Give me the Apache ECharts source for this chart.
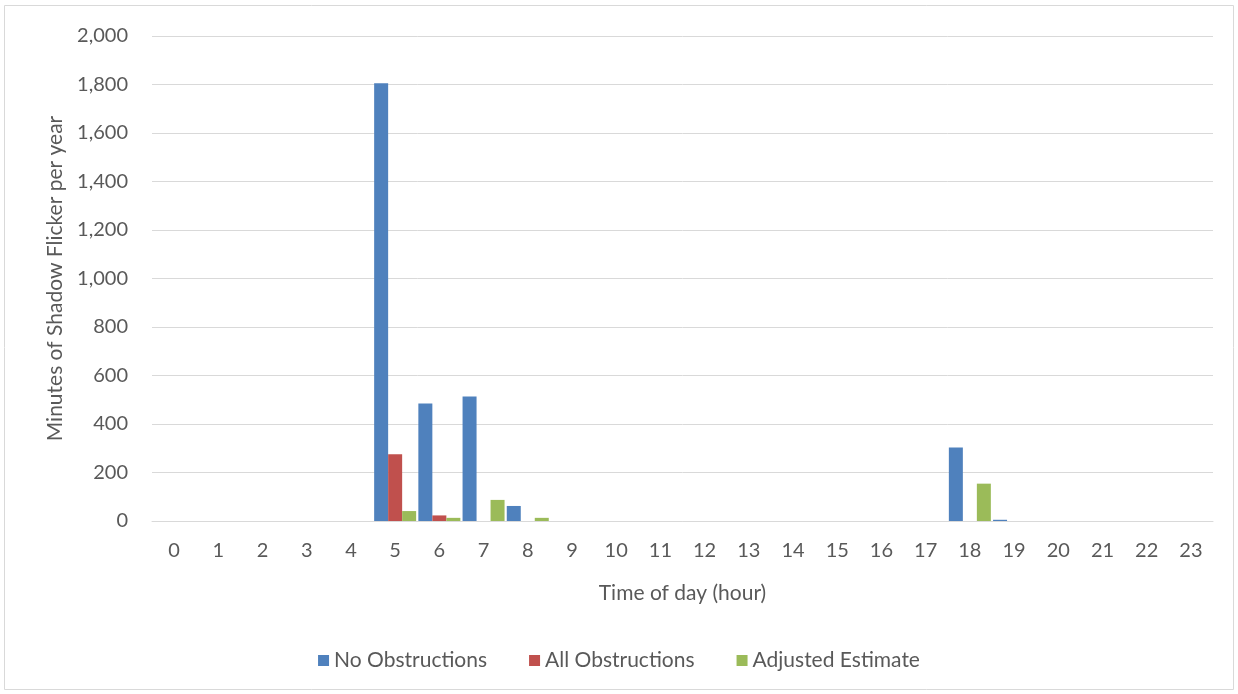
<!DOCTYPE html>
<html><head><meta charset="utf-8">
<script src="https://cdn.jsdelivr.net/npm/echarts@6/dist/echarts.min.js"></script>
<style>html,body{margin:0;padding:0;background:#fff}#c{width:1238px;height:694px}</style>
</head><body><div id="c"></div>
<script>
const hours = ['0','1','2','3','4','5','6','7','8','9','10','11','12','13','14','15','16','17','18','19','20','21','22','23'];
const noObstructions = [0,0,0,0,0,1805,485,513,62,0,0,0,0,0,0,0,0,0,303,5,0,0,0,0];
const allObstructions = [0,0,0,0,0,275,23,0,0,0,0,0,0,0,0,0,0,0,0,0,0,0,0,0];
const adjustedEstimate = [0,0,0,0,0,41,13,87,13,0,0,0,0,0,0,0,0,0,154,0,0,0,0,0];
const yTicks = {min:0, max:2000, interval:200};

const font = 'Lato, "Open Sans", sans-serif';
const chart = echarts.init(document.getElementById('c'));
chart.setOption({
  animation:false,
  textStyle:{fontFamily:font},
  graphic:[{type:'rect',shape:{x:4.5,y:5.5,width:1229,height:684},style:{fill:'none',stroke:'#D9D9D9',lineWidth:1}}],
  grid:{left:152,right:25,top:36,bottom:173},
  legend:{bottom:18,left:'center',itemWidth:11,itemHeight:11,itemGap:42,icon:'rect',
    textStyle:{color:'#595959',fontSize:21,fontFamily:font}},
  xAxis:{type:'category',data:hours,name:'Time of day (hour)',nameLocation:'middle',nameGap:62,
    nameTextStyle:{color:'#595959',fontSize:21,fontFamily:font},
    axisLine:{lineStyle:{color:'#D9D9D9',width:1}},axisTick:{show:false},
    axisLabel:{color:'#595959',fontSize:20,margin:20,fontFamily:font}},
  yAxis:{type:'value',min:yTicks.min,max:yTicks.max,interval:yTicks.interval,
    name:'Minutes of Shadow Flicker per year',nameLocation:'middle',nameGap:86,
    nameTextStyle:{color:'#595959',fontSize:21,fontFamily:font},
    axisLine:{show:false},axisTick:{show:false},
    splitLine:{lineStyle:{color:'#D9D9D9',width:1}},
    axisLabel:{color:'#595959',fontSize:20,margin:24,fontFamily:font,
      formatter:v=>v.toLocaleString('en-US')}},
  series:[
    {name:'No Obstructions',type:'bar',data:noObstructions,itemStyle:{color:'#4F81BD'},barGap:'0%',barCategoryGap:'5%'},
    {name:'All Obstructions',type:'bar',data:allObstructions,itemStyle:{color:'#C0504D'},barGap:'0%',barCategoryGap:'5%'},
    {name:'Adjusted Estimate',type:'bar',data:adjustedEstimate,itemStyle:{color:'#9BBB59'},barGap:'0%',barCategoryGap:'5%'}
  ]
});
</script></body></html>
